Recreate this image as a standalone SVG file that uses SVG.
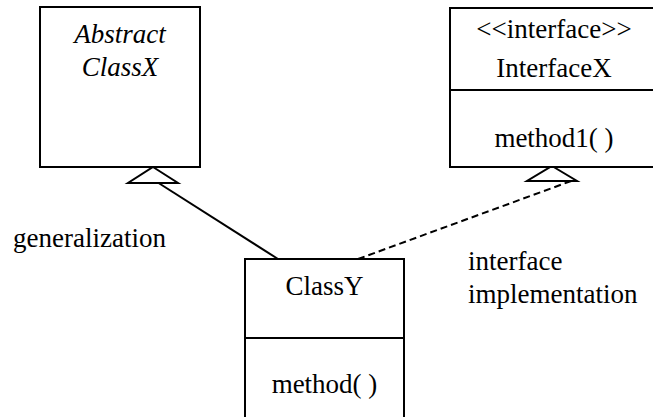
<svg xmlns="http://www.w3.org/2000/svg" width="653" height="417" viewBox="0 0 653 417">
  <style>
    .box { fill: #ffffff; stroke: #000000; stroke-width: 2; }
    .div { stroke: #000000; stroke-width: 2; }
    .mid { text-anchor: middle; }
    .it { font-style: italic; }
    .link { fill: none; stroke: #000000; stroke-width: 2; }
    .dash { stroke-dasharray: 7 4; }
    .head { fill: #ffffff; stroke: #000000; stroke-width: 2; stroke-linejoin: miter; }
    .open { fill: none; }
  </style>
  <rect width="653" height="417" fill="#ffffff"/>

  <g id="connectors">
    <!-- generalization: ClassY to AbstractClassX -->
    <line class="link" x1="278" y1="259" x2="157" y2="182"/>
    <polygon class="head" points="153,167 178,183 128,183"/>
    <!-- interface implementation: ClassY to InterfaceX -->
    <line class="link dash" x1="358" y1="259" x2="574" y2="180"/>
    <polygon class="head open" points="552,166 577,181 527,181"/>
  </g>

  <g id="abstract-class-x" font-size="27">
    <rect class="box" x="40" y="7" width="160" height="160"/>
    <text class="it mid" x="120" y="43" font-family="'Liberation Serif', serif">Abstract</text>
    <text class="it mid" x="120" y="76" font-family="'Liberation Serif', serif">ClassX</text>
  </g>

  <g id="interface-x" font-size="27">
    <rect class="box" x="450" y="8" width="210" height="159"/>
    <line class="div" x1="450" y1="90" x2="660" y2="90"/>
    <text class="mid" x="554" y="38" font-family="'Liberation Serif', serif">&lt;&lt;interface&gt;&gt;</text>
    <text class="mid" x="554" y="77" font-family="'Liberation Serif', serif">InterfaceX</text>
    <text class="mid" x="554" y="147" font-family="'Liberation Serif', serif">method1( )</text>
  </g>

  <g id="class-y" font-size="27">
    <rect class="box" x="245" y="259" width="159" height="170"/>
    <line class="div" x1="245" y1="338" x2="404" y2="338"/>
    <text class="mid" x="324.5" y="295" font-family="'Liberation Serif', serif">ClassY</text>
    <text class="mid" x="324.5" y="393" font-family="'Liberation Serif', serif">method( )</text>
  </g>

  <g id="labels" font-size="27">
    <text x="13" y="247" font-family="'Liberation Serif', serif">generalization</text>
    <text x="468" y="270" font-family="'Liberation Serif', serif">interface</text>
    <text x="468" y="303" font-family="'Liberation Serif', serif">implementation</text>
  </g>
</svg>
